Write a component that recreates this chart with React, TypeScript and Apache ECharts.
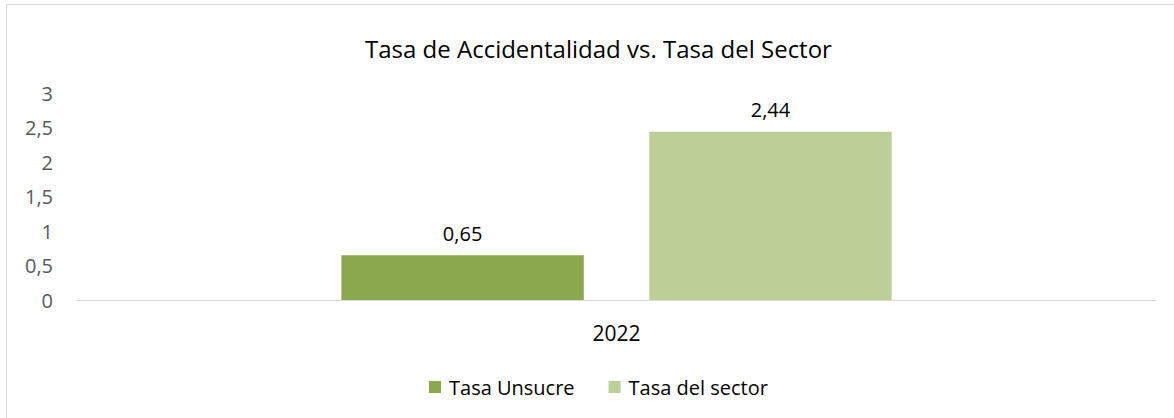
import React, { useEffect, useRef } from "react";
import * as echarts from "echarts";

const categories = ["2022"];
const seriesNames = ["Tasa Unsucre", "Tasa del sector"];
const unsucreValues = [0.65];
const sectorValues = [2.44];
const colors = ["#8aa84e", "#bbcf97"];

const fmt = (v: number) => String(v).replace(".", ",");

export default function App() {
  const ref = useRef<HTMLDivElement>(null);
  useEffect(() => {
    document.body.style.margin = "0";
    const chart = echarts.init(ref.current!, undefined, { renderer: "svg" });
    const font = "'Open Sans', Calibri, sans-serif";
    const dataLabel = {
      show: true,
      position: "top",
      distance: 12,
      fontFamily: font,
      fontSize: 20,
      color: "#000000",
      formatter: (p: any) => fmt(p.value),
    };
    chart.setOption({
      animation: false,
      textStyle: { fontFamily: font },
      title: {
        text: "Tasa de Accidentalidad vs. Tasa del Sector",
        left: 360,
        top: 31,
        textStyle: { fontFamily: font, fontSize: 24, fontWeight: "normal", color: "#000000" },
      },
      graphic: [
        {
          type: "rect",
          shape: { x: 6.5, y: 4.5, width: 1300, height: 600 },
          style: { fill: "none", stroke: "#d9d9d9", lineWidth: 1 },
          silent: true,
        },
      ],
      legend: {
        top: 372,
        left: 424,
        itemWidth: 12,
        itemHeight: 12,
        itemGap: 34,
        icon: "rect",
        textStyle: { fontFamily: font, fontSize: 20, color: "#000000", padding: [0, 0, 0, 3] },
        data: seriesNames,
      },
      grid: { left: 77, right: 18, top: 93, bottom: 118, containLabel: false },
      xAxis: {
        type: "category",
        data: categories,
        axisLine: { lineStyle: { color: "#d9d9d9", width: 1 } },
        axisTick: { show: false },
        axisLabel: { fontFamily: font, fontSize: 21, color: "#000000", margin: 22 },
      },
      yAxis: {
        type: "value",
        min: 0,
        max: 3,
        interval: 0.5,
        splitLine: { show: false },
        axisLine: { show: false },
        axisTick: { show: false },
        axisLabel: {
          fontFamily: font,
          fontSize: 20,
          color: "#595959",
          margin: 24,
          formatter: (v: number) => fmt(v),
        },
      },
      series: [
        {
          name: seriesNames[0],
          type: "bar",
          data: unsucreValues,
          itemStyle: { color: colors[0] },
          barGap: "27%",
          barCategoryGap: "49%",
          label: dataLabel,
        },
        {
          name: seriesNames[1],
          type: "bar",
          data: sectorValues,
          itemStyle: { color: colors[1] },
          barGap: "27%",
          barCategoryGap: "49%",
          label: dataLabel,
        },
      ],
    });
    return () => chart.dispose();
  }, []);
  return <div ref={ref} style={{ width: 1174, height: 418 }} />;
}
